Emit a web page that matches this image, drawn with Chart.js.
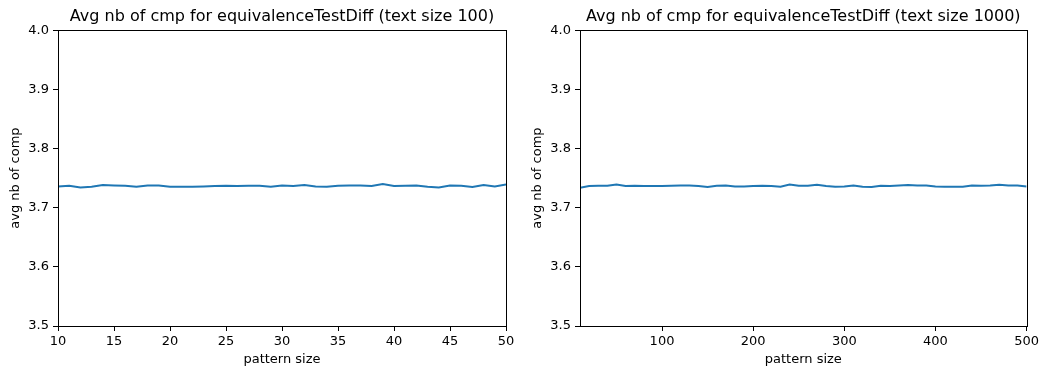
<!DOCTYPE html>
<html>
<head>
<meta charset="utf-8">
<script src="https://cdn.jsdelivr.net/npm/chart.js"></script>
<style>
  html, body { margin: 0; padding: 0; background: #fff; }
  #wrap { position: relative; width: 1041px; height: 369px; }
  .box { position: absolute; top: 0; height: 369px; }
</style>
</head>
<body>
<div id="wrap">
  <div class="box" style="left:0"><canvas id="chartSmall"></canvas></div>
  <div class="box" style="left:522px"><canvas id="chartLarge"></canvas></div>
</div>
<script>
// text size 100
const sizesSmall = [10, 11, 12, 13, 14, 15, 16, 17, 18, 19, 20, 21, 22, 23, 24, 25, 26, 27, 28, 29, 30,
  31, 32, 33, 34, 35, 36, 37, 38, 39, 40, 41, 42, 43, 44, 45, 46, 47, 48, 49, 50];
const cmpSmall = [3.7359, 3.7370, 3.7342, 3.7353, 3.7382, 3.7376, 3.7370, 3.7353, 3.7376, 3.7376,
  3.7353, 3.7353, 3.7353, 3.7359, 3.7365, 3.7370, 3.7365, 3.7370, 3.7370, 3.7353,
  3.7373, 3.7365, 3.7382, 3.7359, 3.7353, 3.7370, 3.7376, 3.7376, 3.7365, 3.7399,
  3.7365, 3.7370, 3.7376, 3.7353, 3.7342, 3.7376, 3.7370, 3.7348, 3.7382, 3.7359, 3.7393];
const xTicksSmall = [10, 15, 20, 25, 30, 35, 40, 45, 50];

// text size 1000
const sizesLarge = [10, 20, 30, 40, 50, 60, 70, 80, 90, 100, 110, 120, 130, 140, 150, 160, 170, 180, 190, 200,
  210, 220, 230, 240, 250, 260, 270, 280, 290, 300, 310, 320, 330, 340, 350, 360, 370, 380, 390, 400,
  410, 420, 430, 440, 450, 460, 470, 480, 490, 500];
const cmpLarge = [3.7337, 3.7365, 3.7370, 3.7370, 3.7393, 3.7365, 3.7370, 3.7365, 3.7365, 3.7365,
  3.7370, 3.7376, 3.7376, 3.7365, 3.7348, 3.7370, 3.7376, 3.7359, 3.7359, 3.7365,
  3.7370, 3.7365, 3.7353, 3.7393, 3.7370, 3.7370, 3.7387, 3.7365, 3.7353, 3.7359,
  3.7376, 3.7353, 3.7348, 3.7370, 3.7365, 3.7376, 3.7382, 3.7376, 3.7376, 3.7359,
  3.7353, 3.7353, 3.7353, 3.7376, 3.7370, 3.7376, 3.7387, 3.7376, 3.7376, 3.7359];
const xTicksLarge = [100, 200, 300, 400, 500];

const yTicks = [3.5, 3.6, 3.7, 3.8, 3.9, 4.0];

const FONT = "'DejaVu Sans', sans-serif";

// matplotlib-like frame around the plot area
const framePlugin = {
  id: 'frame',
  afterDraw(chart) {
    const a = chart.chartArea, ctx = chart.ctx;
    ctx.save();
    ctx.strokeStyle = '#000';
    ctx.lineWidth = 1;
    ctx.strokeRect(Math.round(a.left) + 0.5, Math.round(a.top) + 0.5,
      Math.round(a.right - a.left), Math.round(a.bottom - a.top));
    ctx.restore();
  }
};

function makeChart(id, w, xs, ys, xMin, xMax, xTicks, title) {
  const c = document.getElementById(id);
  c.width = w; c.height = 369;
  c.style.width = w + 'px'; c.style.height = '369px';
  new Chart(c, {
    type: 'line',
    data: {
      datasets: [{
        data: xs.map((x, i) => ({ x: x, y: ys[i] })),
        borderColor: '#1f77b4',
        borderWidth: 2,
        pointRadius: 0,
        tension: 0,
        fill: false
      }]
    },
    options: {
      responsive: false,
      animation: false,
      devicePixelRatio: 1,
      layout: { padding: { left: 0, right: 14, top: 0, bottom: 0 } },
      plugins: {
        legend: { display: false },
        tooltip: { enabled: false },
        title: {
          display: true, text: title, color: '#000', fullSize: false,
          font: { family: FONT, size: 16, weight: 'normal' },
          padding: { top: 7, bottom: 4 }
        }
      },
      scales: {
        x: {
          type: 'linear', min: xMin, max: xMax,
          afterBuildTicks: s => { s.ticks = xTicks.map(v => ({ value: v })); },
          afterFit: s => { s.height = 43; },
          grid: { drawOnChartArea: false, drawTicks: true, tickLength: 5, color: '#000' },
          border: { display: true, color: '#000' },
          ticks: { color: '#000', padding: 3, maxRotation: 0, autoSkip: false,
            font: { family: FONT, size: 13 } },
          title: { display: true, text: 'pattern size', color: '#000',
            font: { family: FONT, size: 13 }, padding: { top: 0, bottom: 2 } }
        },
        y: {
          type: 'linear', min: 3.5, max: 4.0,
          afterBuildTicks: s => { s.ticks = yTicks.map(v => ({ value: v })); },
          afterFit: s => { s.width = 58; },
          grid: { drawOnChartArea: false, drawTicks: true, tickLength: 5, color: '#000' },
          border: { display: true, color: '#000' },
          ticks: { color: '#000', padding: 4, callback: v => v.toFixed(1),
            font: { family: FONT, size: 13 } },
          title: { display: true, text: 'avg nb of comp', color: '#000',
            font: { family: FONT, size: 13 }, padding: { top: 8, bottom: 0 } }
        }
      }
    },
    plugins: [framePlugin]
  });
}

makeChart('chartSmall', 520, sizesSmall, cmpSmall, 10, 50, xTicksSmall,
  'Avg nb of cmp for equivalenceTestDiff (text size 100)');
makeChart('chartLarge', 520, sizesLarge, cmpLarge, 10, 500, xTicksLarge,
  'Avg nb of cmp for equivalenceTestDiff (text size 1000)');
</script>
</body>
</html>
